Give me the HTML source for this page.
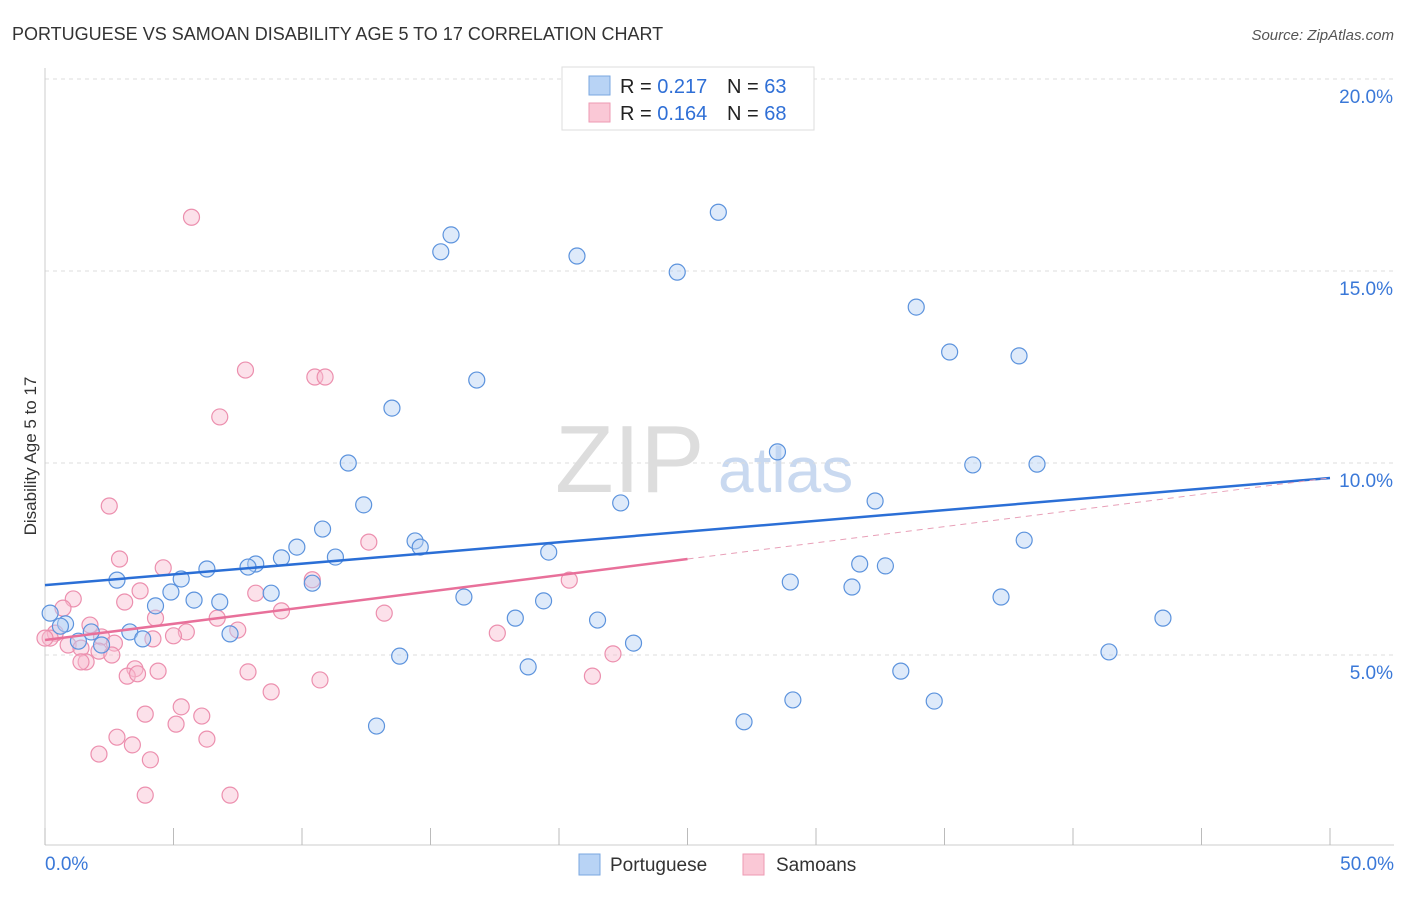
<!DOCTYPE html>
<html><head><meta charset="utf-8">
<style>
body{margin:0;background:#fff;font-family:"Liberation Sans",sans-serif;}
svg text{font-family:"Liberation Sans",sans-serif;}
</style></head>
<body>
<svg id="chart" width="1406" height="892" xmlns="http://www.w3.org/2000/svg">
<text x="12" y="40" font-size="18" fill="#333">PORTUGUESE VS SAMOAN DISABILITY AGE 5 TO 17 CORRELATION CHART</text>
<text x="1394" y="40" font-size="15" fill="#555" text-anchor="end" font-style="italic">Source: ZipAtlas.com</text>
<text x="36" y="456" font-size="17" fill="#333" text-anchor="middle" transform="rotate(-90 36 456)">Disability Age 5 to 17</text>
<text x="555" y="492" font-size="96" fill="#ddd" font-family="Liberation Serif">ZIP</text>
<text x="718" y="492" font-size="64" fill="#c9d9f0">atlas</text>
<g id="grid"></g><g id="axes"></g><g id="pts"></g><g id="lines"></g>
<g>
<rect x="562" y="67" width="252" height="63" fill="#fff" stroke="#ddd"/>
<rect x="589" y="76" width="21" height="19" fill="#b8d3f5" stroke="#7aa7e0"/>
<rect x="589" y="103" width="21" height="19" fill="#fac8d6" stroke="#ee9ab3"/>
<text x="620" y="93" font-size="20" fill="#222">R = <tspan fill="#2f6fd6">0.217</tspan></text>
<text x="727" y="93" font-size="20" fill="#222">N = <tspan fill="#2f6fd6">63</tspan></text>
<text x="620" y="120" font-size="20" fill="#222">R = <tspan fill="#2f6fd6">0.164</tspan></text>
<text x="727" y="120" font-size="20" fill="#222">N = <tspan fill="#2f6fd6">68</tspan></text>
</g>
<g>
<rect x="579" y="854" width="21" height="21" fill="#b8d3f5" stroke="#7aa7e0"/>
<text x="610" y="871" font-size="19" fill="#333">Portuguese</text>
<rect x="743" y="854" width="21" height="21" fill="#fac8d6" stroke="#ee9ab3"/>
<text x="776" y="871" font-size="19" fill="#333">Samoans</text>
</g>
</svg>
<script>
const blueX=[26.2,15.8,15.4,20.7,24.6,33.9,35.2,37.9,16.8,13.5,11.8,28.5,36.1,38.6,12.4,22.4,32.3,10.8,38.1,14.4,14.6,9.8,19.6,11.3,9.2,8.2,7.9,6.3,31.7,32.7,5.3,2.8,29.0,10.4,4.9,31.4,8.8,5.8,6.8,4.3,16.3,37.2,19.4,18.3,21.5,43.5,0.8,1.8,3.3,7.2,3.8,2.2,1.3,22.9,13.8,41.4,18.8,33.3,29.1,34.6,27.2,12.9,0.2,0.6];
const blueY=[16.53,15.94,15.5,15.39,14.97,14.06,12.89,12.79,12.16,11.43,10.0,10.29,9.95,9.97,8.91,8.96,9.01,8.28,7.99,7.97,7.81,7.81,7.68,7.55,7.53,7.37,7.29,7.24,7.37,7.32,6.98,6.95,6.9,6.87,6.64,6.77,6.61,6.43,6.38,6.28,6.51,6.51,6.41,5.96,5.91,5.96,5.81,5.6,5.6,5.55,5.42,5.26,5.36,5.31,4.97,5.08,4.69,4.58,3.83,3.8,3.26,3.15,6.09,5.75];
const pinkX=[5.7,7.8,10.5,10.9,6.8,2.5,2.9,4.6,12.6,10.4,20.4,3.7,8.2,1.1,3.1,0.7,4.3,9.2,13.2,6.7,1.75,7.5,5.5,5.0,17.6,4.2,2.2,2.7,0.9,1.4,0.4,0.2,2.1,2.6,22.1,1.6,1.4,3.5,4.4,3.2,3.6,7.9,21.3,10.7,8.8,5.3,3.9,6.1,5.1,2.8,6.3,3.4,2.1,4.1,3.9,7.2,0.0];
const pinkY=[16.4,12.42,12.24,12.24,11.2,8.88,7.5,7.27,7.94,6.96,6.95,6.67,6.61,6.46,6.38,6.22,5.96,6.15,6.09,5.96,5.78,5.65,5.6,5.5,5.57,5.42,5.47,5.31,5.26,5.18,5.57,5.44,5.1,5.0,5.03,4.82,4.82,4.64,4.58,4.45,4.51,4.56,4.45,4.35,4.04,3.65,3.46,3.41,3.2,2.86,2.81,2.66,2.42,2.27,1.35,1.35,5.44];
const xTicks=[0,5,10,15,20,25,30,35,40,45,50];
const yTicks=[5,10,15,20];
const blueFit=[6.82,9.61];
const pinkFit=[5.39,9.61];
const NS="http://www.w3.org/2000/svg";
const sx=v=>45+v*25.7, sy=v=>847-v*38.4;
function mk(tag,at,parent){const e=document.createElementNS(NS,tag);for(const k in at)e.setAttribute(k,at[k]);document.getElementById(parent).appendChild(e);return e;}
yTicks.forEach(t=>{
 const l=mk('line',{x1:45,x2:1394,y1:sy(t),y2:sy(t),stroke:'#ddd','stroke-dasharray':'4,4'},'grid');
 
 
 const tx=mk('text',{x:1393,y:sy(t)+24,'font-size':19,fill:'#3a78d8','text-anchor':'end'},'grid');
 tx.textContent=t.toFixed(1)+'%';
 
 
});
const ax=mk('line',{x1:45,x2:1394,y1:845,y2:845,stroke:'#ccc'},'axes');


const ay=mk('line',{x1:45,x2:45,y1:68,y2:845,stroke:'#ccc'},'axes');


xTicks.forEach(t=>{
 const l=mk('line',{x1:sx(t),x2:sx(t),y1:828,y2:845,stroke:'#bbb'},'axes');
 
 
});
[[0,'start',45],[50,'end',1394]].forEach(([t,a,x])=>{
 const tx=mk('text',{x:x,y:870,'font-size':19,fill:'#3a78d8','text-anchor':a},'axes');
 tx.textContent=t.toFixed(1)+'%';
 
 
});
function pts(X,Y,fill,stroke,name){X.forEach((x,i)=>{
 const c=mk('circle',{cx:sx(x),cy:sy(Y[i]),r:8,fill:fill,'fill-opacity':0.45,stroke:stroke,'stroke-width':1.2},'pts');
 
 
});}
pts(pinkX,pinkY,'#f9bdd0','#ec8fae','samoan-point');
pts(blueX,blueY,'#b6d0f4','#5c93dd','portuguese-point');
const bl=mk('line',{x1:sx(0),y1:sy(blueFit[0]),x2:sx(50),y2:sy(blueFit[1]),stroke:'#2b6fd6','stroke-width':2.5},'lines');


const py=x=>pinkFit[0]+(pinkFit[1]-pinkFit[0])*x/50;
const pl=mk('line',{x1:sx(0),y1:sy(py(0)),x2:sx(25),y2:sy(py(25)),stroke:'#e8709a','stroke-width':2.5},'lines');


const pd=mk('line',{x1:sx(25),y1:sy(py(25)),x2:sx(50),y2:sy(py(50)),stroke:'#e8a0b8','stroke-width':1,'stroke-dasharray':'6,5'},'lines');


</script>
</body></html>
